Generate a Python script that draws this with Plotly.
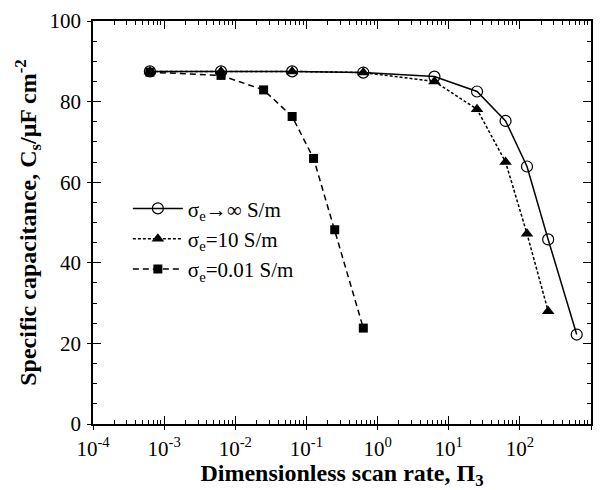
import plotly.graph_objects as go

# Data
x_inf = [6.3e-4, 6.3e-3, 6.3e-2, 0.63, 6.3, 25, 63, 126, 250, 630]
y_inf = [87.5, 87.5, 87.5, 87.2, 86.2, 82.5, 75.2, 63.9, 45.8, 22.2]

x_10 = [6.3e-4, 6.3e-3, 6.3e-2, 0.63, 6.3, 25, 63, 126, 250]
y_10 = [87.5, 87.5, 87.5, 87.2, 85.0, 78.1, 65.0, 47.2, 28.0]

x_001 = [6.3e-4, 6.3e-3, 0.025, 0.063, 0.126, 0.25, 0.63]
y_001 = [87.3, 86.5, 82.9, 76.3, 65.9, 48.2, 23.8]

names = ["σ<sub>e</sub>→∞ S/m", "σ<sub>e</sub>=10 S/m", "σ<sub>e</sub>=0.01 S/m"]

x_tickvals = [1e-4, 1e-3, 1e-2, 1e-1, 1, 10, 100, 1000]
x_ticktext = ["10<sup>-4</sup>", "10<sup>-3</sup>", "10<sup>-2</sup>", "10<sup>-1</sup>",
              "10<sup>0</sup>", "10<sup>1</sup>", "10<sup>2</sup>", "10<sup>3</sup>"]
x_minor = [m * d for d in x_tickvals[:-1] for m in range(2, 10)]

FONT = "Liberation Serif"

fig = go.Figure()
fig.add_trace(go.Scatter(x=x_inf, y=y_inf, mode="lines+markers", name=names[0],
                         line=dict(color="black", width=1.5, dash="solid"),
                         marker=dict(symbol="circle-open", size=11, color="black",
                                     line=dict(width=1.2, color="black"))))
fig.add_trace(go.Scatter(x=x_10, y=y_10, mode="lines+markers", name=names[1],
                         line=dict(color="black", width=1.5, dash="3px,2px"),
                         marker=dict(symbol="triangle-up", size=11, color="black")))
fig.add_trace(go.Scatter(x=x_001, y=y_001, mode="lines+markers", name=names[2],
                         line=dict(color="black", width=1.5, dash="6px,4px"),
                         marker=dict(symbol="square", size=9, color="black")))
# dummy trace for overlay axes (crossing major ticks)
fig.add_trace(go.Scatter(x=[], y=[], xaxis="x2", yaxis="y2", showlegend=False,
                         hoverinfo="skip"))

axis_common = dict(showgrid=False, zeroline=False, color="black", linecolor="black",
                   linewidth=1.5, mirror="allticks", tickwidth=1.2, automargin=False)

fig.update_layout(
    width=600, height=490,
    margin=dict(l=93, r=9, t=21, b=66),
    paper_bgcolor="white", plot_bgcolor="white",
    font=dict(family=FONT, size=21, color="black"),
    xaxis=dict(type="log", range=[-4, 3], tickmode="array", tickvals=x_tickvals,
               ticktext=x_ticktext,
               ticks="inside", ticklen=8, showline=True,
               minor=dict(tickmode="array", tickvals=x_minor, ticks="inside", ticklen=4,
                          tickwidth=1, tickcolor="black"),
               title=dict(text="<b>Dimensionless scan rate, Π<sub>3</sub></b>",
                          font=dict(family=FONT, size=24), standoff=6),
               tickfont=dict(family=FONT, size=21),
               ticklabelstandoff=5,
               **axis_common),
    yaxis=dict(range=[0, 100], dtick=20, ticks="inside", ticklen=8, showline=True,
               minor=dict(dtick=5, ticks="inside", ticklen=4, tickwidth=1, tickcolor="black"),
               title=dict(text="<b>Specific capacitance, C<sub>s</sub>/μF cm<sup>-2</sup></b>",
                          font=dict(family=FONT, size=24), standoff=6),
               tickfont=dict(family=FONT, size=21),
               ticklabelstandoff=6,
               **axis_common),
    xaxis2=dict(type="log", range=[-4, 3], tickmode="array", tickvals=x_tickvals,
                overlaying="x", anchor="y",
                side="bottom", ticks="outside", ticklen=5, tickwidth=1.2, tickcolor="black",
                showticklabels=False, showline=False, showgrid=False, zeroline=False),
    yaxis2=dict(range=[0, 100], dtick=20, overlaying="y", anchor="x", side="left",
                ticks="outside", ticklen=5, tickwidth=1.2, tickcolor="black",
                showticklabels=False, showline=False, showgrid=False, zeroline=False),
    legend=dict(x=0.07, y=0.585, xanchor="left", yanchor="top",
                bgcolor="rgba(0,0,0,0)", font=dict(family=FONT, size=21),
                tracegroupgap=0, itemwidth=50),
    showlegend=True,
)

fig.write_html("out.html")
